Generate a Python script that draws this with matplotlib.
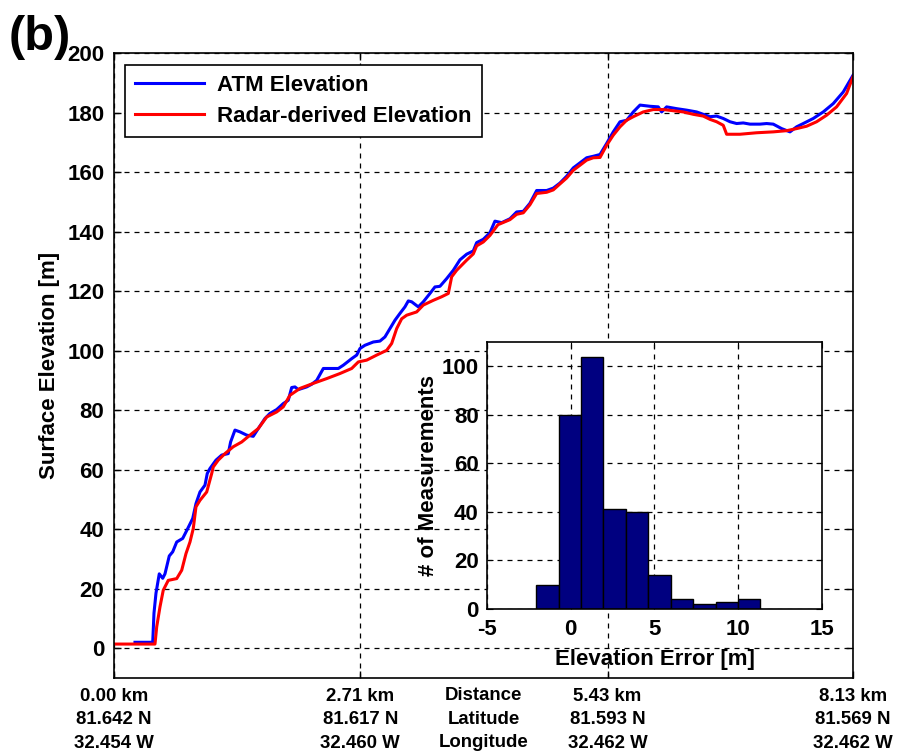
import numpy as np
import matplotlib.pyplot as plt

plt.rcParams['font.family'] = ['Liberation Sans', 'DejaVu Sans']
plt.rcParams['font.weight'] = 'bold'
plt.rcParams['axes.unicode_minus'] = False

# ATM laser altimetry profile (distance in km, elevation in m)
atm_km = [0.231, 0.426, 0.44, 0.462, 0.498, 0.536, 0.561, 0.608, 0.646, 0.69,
          0.756, 0.806, 0.866, 0.902, 0.946, 1.001, 1.026, 1.056, 1.122, 1.185,
          1.257, 1.283, 1.331, 1.386, 1.46, 1.532, 1.587, 1.661, 1.716, 1.79,
          1.862, 1.917, 1.955, 1.991, 2.028, 2.12, 2.175, 2.23, 2.303, 2.376,
          2.468, 2.523, 2.615, 2.67, 2.706, 2.761, 2.853, 2.926, 2.981, 3.036,
          3.091, 3.146, 3.201, 3.238, 3.275, 3.348, 3.403, 3.476, 3.531, 3.586,
          3.66, 3.733, 3.806, 3.88, 3.953, 3.99, 4.063, 4.136, 4.191, 4.265,
          4.356, 4.43, 4.503, 4.576, 4.65, 4.76, 4.833, 4.906, 4.98, 5.053,
          5.127, 5.2, 5.273, 5.347, 5.42, 5.493, 5.567, 5.64, 5.713, 5.787,
          5.897, 5.988, 6.025, 6.08, 6.19, 6.3, 6.41, 6.483, 6.557, 6.63,
          6.703, 6.777, 6.85, 6.923, 6.997, 7.107, 7.18, 7.253, 7.345, 7.437,
          7.51, 7.583, 7.693, 7.803, 7.913, 8.023, 8.13]
atm_elev = [2.0, 2.0, 11.8, 18.5, 25.0, 23.5, 25.0, 31.0, 32.4, 35.7,
            36.9, 39.9, 43.6, 48.6, 52.5, 54.8, 58.7, 60.4, 63.2, 64.9,
            65.4, 69.3, 73.3, 72.7, 71.6, 71.2, 73.8, 77.2, 78.9, 80.2,
            82.2, 83.3, 87.6, 87.8, 86.9, 87.8, 88.7, 90.0, 94.0, 94.0,
            94.0, 95.1, 97.3, 98.5, 100.7, 101.8, 102.9, 103.2, 104.6, 107.4,
            110.2, 112.5, 114.7, 116.7, 116.4, 114.7, 116.4, 119.2, 121.4, 121.6,
            124.2, 127.0, 130.5, 132.4, 133.5, 136.3, 137.4, 139.6, 143.5, 143.0,
            144.3, 146.6, 146.8, 149.5, 153.8, 153.8, 154.6, 156.3, 158.6, 161.4,
            163.1, 164.8, 165.3, 165.9, 169.6, 173.5, 176.9, 177.4, 180.2, 182.5,
            182.1, 181.9, 180.2, 181.9, 181.3, 180.8, 180.2, 179.4, 178.6, 178.8,
            178.0, 176.9, 176.3, 176.5, 176.1, 176.1, 176.3, 176.1, 174.6, 173.5,
            175.2, 176.3, 178.0, 180.2, 183.0, 186.9, 192.5]

# radar-derived surface profile
radar_km = [0.0, 0.451, 0.47, 0.506, 0.542, 0.597, 0.69, 0.745, 0.792, 0.836,
            0.872, 0.902, 0.946, 1.02, 1.075, 1.092, 1.147, 1.221, 1.312, 1.405,
            1.496, 1.587, 1.68, 1.79, 1.862, 1.936, 2.046, 2.193, 2.34, 2.486,
            2.615, 2.688, 2.78, 2.89, 3.0, 3.055, 3.11, 3.165, 3.22, 3.33,
            3.403, 3.513, 3.605, 3.678, 3.715, 3.77, 3.88, 3.953, 3.99, 4.063,
            4.136, 4.224, 4.356, 4.43, 4.503, 4.576, 4.65, 4.76, 4.833, 4.906,
            4.98, 5.053, 5.127, 5.2, 5.273, 5.347, 5.42, 5.493, 5.567, 5.64,
            5.713, 5.823, 5.933, 6.043, 6.153, 6.263, 6.373, 6.483, 6.557, 6.63,
            6.703, 6.74, 6.887, 7.07, 7.253, 7.4, 7.51, 7.62, 7.73, 7.84,
            7.95, 8.06, 8.13]
radar_elev = [1.4, 1.4, 7.2, 13.9, 19.5, 22.8, 23.4, 26.2, 31.8, 35.7,
              40.2, 47.5, 49.7, 52.5, 58.7, 60.9, 63.2, 65.4, 67.7, 69.3,
              71.6, 73.8, 77.7, 79.4, 81.1, 85.0, 87.3, 89.0, 90.6, 92.3,
              94.0, 96.2, 96.8, 98.5, 100.1, 102.4, 107.4, 110.7, 111.9, 113.0,
              115.3, 116.9, 118.1, 119.2, 124.8, 127.0, 130.4, 132.5, 135.2, 136.5,
              138.7, 142.3, 144.0, 145.8, 146.3, 149.0, 152.8, 153.2, 154.0, 156.0,
              158.0, 160.6, 162.3, 164.0, 164.8, 164.9, 169.0, 172.4, 175.2, 177.4,
              178.6, 180.2, 181.0, 181.0, 180.6, 180.2, 179.4, 178.8, 177.7, 176.9,
              175.7, 172.7, 172.7, 173.2, 173.5, 173.9, 174.6, 175.4, 176.9, 179.1,
              181.9, 186.4, 192.0]

# elevation error histogram
err_edges = [-2.07, -0.73, 0.61, 1.95, 3.29, 4.63, 5.97, 7.31, 8.65, 9.99, 11.33]
err_counts = [10, 80, 104, 41, 40, 14, 4, 2, 3, 4]

# along-track tick labels
tick_km = [0.0, 2.71, 5.43, 8.13]
tick_lat = ['81.642 N', '81.617 N', '81.593 N', '81.569 N']
tick_lon = ['32.454 W', '32.460 W', '32.462 W', '32.462 W']
row_names = ['Distance', 'Latitude', 'Longitude']

dash = (0, (4, 4))
fs = 16
fs_row = 13.4
ls_row = 1.5

fig = plt.figure(figsize=(8.99, 7.55), dpi=100)
ax = fig.add_axes([0.1268, 0.102, 0.8220, 0.8278])

ax.plot(atm_km, atm_elev, color=(0, 0, 1), lw=2.2, label='ATM Elevation')
ax.plot(radar_km, radar_elev, color=(1, 0, 0), lw=2.2,
        label='Radar-derived Elevation')

ax.set_xlim(0, 8.13)
ax.set_ylim(-10, 200)
ax.set_yticks(np.arange(0, 201, 20))
ax.set_xticks(tick_km)
ax.set_xticklabels(['%.2f km\n%s\n%s' % (d, la, lo)
                    for d, la, lo in zip(tick_km, tick_lat, tick_lon)],
                   fontsize=fs_row, linespacing=ls_row)
ax.tick_params(axis='both', direction='in', length=5, width=1,
               top=True, right=True, labelsize=fs)
ax.tick_params(axis='x', labelsize=fs_row, pad=7)
ax.tick_params(axis='y', pad=7)
ax.grid(True, color='k', linestyle=dash, lw=0.9)
for s in ax.spines.values():
    s.set_linewidth(1.2)
ax.set_ylabel('Surface Elevation [m]', fontsize=fs, fontweight='bold',
              labelpad=5.5)

ax.text(4.07, -0.066, '\n'.join(row_names), transform=ax.get_xaxis_transform(),
        ha='center', va='center', fontsize=fs_row, fontweight='bold',
        linespacing=ls_row)

leg = ax.legend(loc='upper left', bbox_to_anchor=(0.0149, 0.981),
                borderaxespad=0, fancybox=False, edgecolor='k',
                framealpha=1, fontsize=fs, handlelength=3.1,
                borderpad=0.45, labelspacing=0.45, handletextpad=0.6)
leg.get_frame().set_linewidth(1.2)
for t in leg.get_texts():
    t.set_fontweight('bold')

fig.text(0.010, 0.950, '(b)', fontsize=35, fontweight='bold',
         ha='left', va='center')

# inset: histogram of elevation error
ins = fig.add_axes([0.5417, 0.1934, 0.3726, 0.3536])
ins.hist(err_edges[:-1], bins=err_edges, weights=err_counts,
         color=(0, 0, 0.5), edgecolor='k', lw=1)
ins.set_xlim(-5, 15)
ins.set_ylim(0, 110)
ins.set_xticks([-5, 0, 5, 10, 15])
ins.set_yticks(np.arange(0, 101, 20))
ins.set_axisbelow(True)
ins.grid(True, color='k', linestyle=dash, lw=0.9)
ins.tick_params(axis='both', direction='in', length=4, labelsize=fs,
                top=True, right=True)
ins.tick_params(axis='x', pad=7)
ins.tick_params(axis='y', pad=6)
for s in ins.spines.values():
    s.set_linewidth(1.2)
ins.set_xlabel('Elevation Error [m]', fontsize=fs, fontweight='bold',
               labelpad=7)
ins.set_ylabel('# of Measurements', fontsize=fs, fontweight='bold',
               labelpad=2)

fig.savefig('out.png', dpi=100)
